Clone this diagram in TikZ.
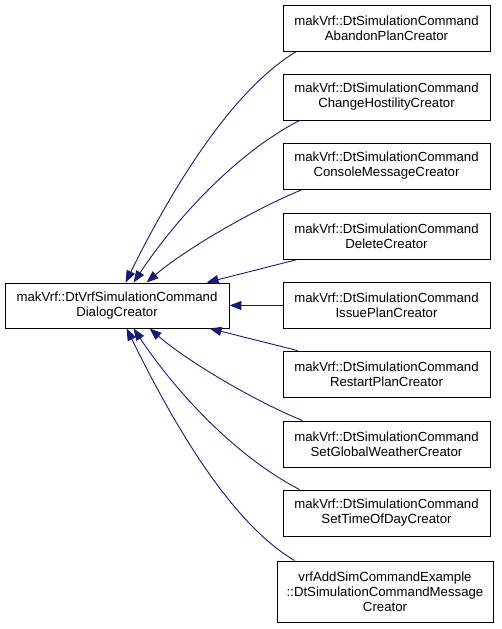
\documentclass[tikz,border=0pt]{standalone}
\usepackage{fontspec}
\setmainfont{Liberation Sans}
\usetikzlibrary{arrows.meta,calc}
\definecolor{edgeblue}{HTML}{191970}
\begin{document}
\begin{tikzpicture}[x=1pt,y=-1pt,
  box/.style={draw=black,line width=0.9pt,fill=white,align=center,inner sep=0pt,
    font=\fontsize{13.2}{15}\selectfont},
  rbox/.style={box,minimum width=207pt,minimum height=46pt},
  inh/.style={draw=edgeblue,line width=0.9pt,-{Triangle[length=12pt,width=9pt]}}]
\useasboundingbox (0,0) rectangle (501,629);
\node[box,minimum width=224pt,minimum height=45pt] (base) at (117,305.5)
  {makVrf::DtVrfSimulationCommand\\DialogCreator};
\node[rbox] (r1) at (386.5,28) {makVrf::DtSimulationCommand\\AbandonPlanCreator};
\node[rbox] (r2) at (386.5,97) {makVrf::DtSimulationCommand\\ChangeHostilityCreator};
\node[rbox] (r3) at (386.5,166) {makVrf::DtSimulationCommand\\ConsoleMessageCreator};
\node[rbox] (r4) at (386.5,236) {makVrf::DtSimulationCommand\\DeleteCreator};
\node[rbox] (r5) at (386.5,305.5) {makVrf::DtSimulationCommand\\IssuePlanCreator};
\node[rbox] (r6) at (386.5,374) {makVrf::DtSimulationCommand\\RestartPlanCreator};
\node[rbox] (r7) at (386.5,444) {makVrf::DtSimulationCommand\\SetGlobalWeatherCreator};
\node[rbox] (r8) at (386.5,513) {makVrf::DtSimulationCommand\\SetTimeOfDayCreator};
\node[box,minimum width=216pt,minimum height=61pt] (r9) at (385,591.5)
  {vrfAddSimCommandExample\\::DtSimulationCommandMessage\\Creator};
\draw[inh] ($(r1.south west)+(14,0)$) .. controls +(-69,41) and +(40,-81) .. ($(base.north west)+(121,0)$);
\draw[inh] ($(r2.south west)+(17,0)$) .. controls +(-62,32) and +(44,-66) .. ($(base.north west)+(129,0)$);
\draw[inh] ($(r3.south west)+(20,0)$) .. controls +(-47,19) and +(38,-33) .. ($(base.north west)+(142,0)$);
\draw[inh] ($(r4.south west)+(15,0)$) -- ($(base.north west)+(202,0)$);
\draw[inh] (r5.west) -- (base.east);
\draw[inh] ($(r6.north west)+(15,0)$) -- ($(base.south west)+(205,0)$);
\draw[inh] ($(r7.north west)+(20,0)$) .. controls +(-47,-19) and +(38,33) .. ($(base.south west)+(145,0)$);
\draw[inh] ($(r8.north west)+(17,0)$) .. controls +(-62,-32) and +(44,66) .. ($(base.south west)+(129,0)$);
\draw[inh] ($(r9.north west)+(18,0)$) .. controls +(-69,-41) and +(40,81) .. ($(base.south west)+(122,0)$);
\end{tikzpicture}
\end{document}
